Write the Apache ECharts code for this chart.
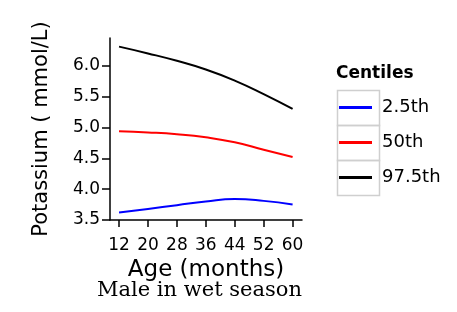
<!DOCTYPE html>
<html>
<head>
    <meta charset="utf-8">
    <title>Potassium centiles</title>
    <style type="text/css">
        body {
            margin: 0;
            background: #fff;
        }
        #main {
            width: 457px;
            height: 312px;
        }
    </style>
</head>
<body>
    <div id="main"></div>
    <script src="https://cdn.jsdelivr.net/npm/echarts@6/dist/echarts.min.js"></script>
    <script>
        // values
        var ages = [12, 20, 28, 36, 44, 52, 60];
        var p025 = [3.62, 3.68, 3.74, 3.80, 3.84, 3.81, 3.75];
        var p50 = [4.94, 4.92, 4.89, 4.84, 4.76, 4.64, 4.52];
        var p975 = [6.31, 6.20, 6.08, 5.94, 5.76, 5.54, 5.30];
        var xTicks = [12, 20, 28, 36, 44, 52, 60];
        var yTicks = [3.5, 4.0, 4.5, 5.0, 5.5, 6.0];
        var names = ['2.5th', '50th', '97.5th'];
        var colors = ['#0000ff', '#ff0000', '#000000'];

        function pairs(vals) {
            return ages.map(function (a, i) { return [a, vals[i]]; });
        }

        var font = 'DejaVu Sans';
        var chart = echarts.init(document.getElementById('main'));

        var cells = [];
        for (var i = 0; i < 3; i++) {
            cells.push({
                type: 'rect',
                left: 335,
                top: 88 + i * 35,
                shape: { width: 42, height: 35 },
                style: { fill: 'none', stroke: '#cfcfcf', lineWidth: 1.5 },
                silent: true
            });
        }

        chart.setOption({
            animation: false,
            title: [{
                text: 'Male in wet season',
                left: 97,
                top: 280,
                padding: 0,
                textStyle: { fontFamily: 'DejaVu Serif', fontWeight: 'normal', fontSize: 21, color: '#000' }
            }, {
                text: 'Centiles',
                left: 336,
                top: 65,
                padding: 0,
                textStyle: { fontFamily: font, fontWeight: 'bold', fontSize: 17, color: '#000' }
            }],
            legend: {
                orient: 'vertical',
                left: 339,
                top: 90,
                padding: 0,
                itemGap: 0,
                itemWidth: 33,
                itemHeight: 3,
                icon: 'rect',
                data: names,
                textStyle: { fontFamily: font, fontSize: 18, color: '#000', lineHeight: 35, padding: [0, 0, 0, 5] }
            },
            graphic: cells,
            grid: { left: 110, right: 155, top: 38, bottom: 92 },
            xAxis: {
                type: 'value',
                min: 9.5,
                max: 62.6,
                name: 'Age (months)',
                nameLocation: 'middle',
                nameGap: 34,
                nameTextStyle: { fontFamily: font, fontSize: 23, color: '#000' },
                axisLine: { lineStyle: { color: '#000', width: 1.5 } },
                axisTick: { customValues: xTicks, length: 7, lineStyle: { color: '#000', width: 1.5 } },
                axisLabel: { customValues: xTicks, margin: 17, fontFamily: font, fontSize: 17, color: '#000' },
                splitLine: { show: false }
            },
            yAxis: {
                type: 'value',
                min: 3.5,
                max: 6.45,
                name: 'Potassium ( mmol/L)',
                nameLocation: 'middle',
                nameGap: 58,
                nameTextStyle: { fontFamily: font, fontSize: 21, color: '#000' },
                axisLine: { show: true, lineStyle: { color: '#000', width: 1.5 } },
                axisTick: { show: true, customValues: yTicks, length: 8, lineStyle: { color: '#000', width: 1.5 } },
                axisLabel: {
                    customValues: yTicks, margin: 10, fontFamily: font, fontSize: 17, color: '#000',
                    formatter: function (v) { return v.toFixed(1); }
                },
                splitLine: { show: false }
            },
            series: [p025, p50, p975].map(function (vals, i) {
                return {
                    name: names[i],
                    type: 'line',
                    smooth: true,
                    symbol: 'none',
                    data: pairs(vals),
                    itemStyle: { color: colors[i] },
                    lineStyle: { color: colors[i], width: 2 }
                };
            })
        });
    </script>
</body>
</html>
